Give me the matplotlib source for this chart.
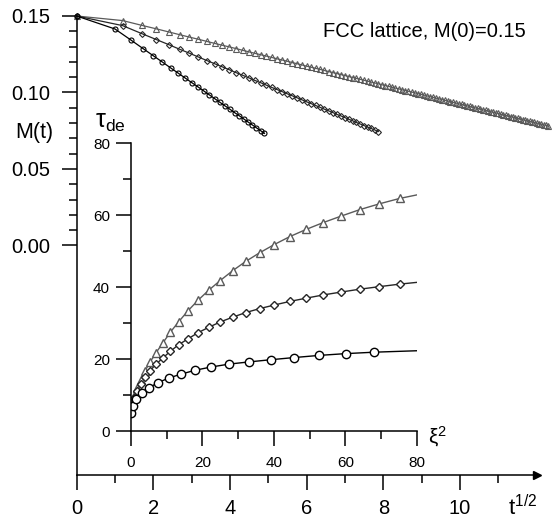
import numpy as np
import matplotlib
matplotlib.use("Agg")
import matplotlib.pyplot as plt

plt.rcParams['font.family'] = ['Liberation Sans', 'DejaVu Sans']
plt.rcParams['mathtext.fontset'] = 'custom'
plt.rcParams['mathtext.rm'] = 'Liberation Sans'
plt.rcParams['mathtext.it'] = 'Liberation Sans:italic'

# main panel: M(t) vs t^(1/2)
t_circ = np.arange(25)
t_dia = 1.44 * np.arange(44)
t_tri = 1.44 * np.arange(106)

M_circ = [0.1500, 0.1415, 0.1343, 0.1287, 0.1240, 0.1199, 0.1161, 0.1127, 0.1095,
          0.1065, 0.1037, 0.1010, 0.0984, 0.0959, 0.0935, 0.0912, 0.0890, 0.0868,
          0.0848, 0.0827, 0.0807, 0.0788, 0.0769, 0.0751, 0.0733]
M_dia = [0.1500, 0.1437, 0.1385, 0.1346, 0.1313, 0.1283, 0.1257, 0.1232, 0.1209,
         0.1188, 0.1168, 0.1149, 0.1130, 0.1113, 0.1096, 0.1079, 0.1064, 0.1048,
         0.1033, 0.1019, 0.1005, 0.0991, 0.0978, 0.0965, 0.0952, 0.0939, 0.0927,
         0.0915, 0.0903, 0.0891, 0.0880, 0.0869, 0.0857, 0.0847, 0.0836, 0.0825,
         0.0815, 0.0804, 0.0794, 0.0784, 0.0774, 0.0765, 0.0755, 0.0745]
M_tri = [0.1500, 0.1470, 0.1439, 0.1416, 0.1396, 0.1378, 0.1362, 0.1348, 0.1334,
         0.1321, 0.1309, 0.1298, 0.1287, 0.1276, 0.1266, 0.1256, 0.1247, 0.1238,
         0.1229, 0.1220, 0.1212, 0.1204, 0.1195, 0.1188, 0.1180, 0.1172, 0.1165,
         0.1158, 0.1151, 0.1144, 0.1137, 0.1130, 0.1124, 0.1117, 0.1111, 0.1104,
         0.1098, 0.1092, 0.1086, 0.1080, 0.1074, 0.1068, 0.1062, 0.1057, 0.1051,
         0.1045, 0.1040, 0.1034, 0.1029, 0.1024, 0.1018, 0.1013, 0.1008, 0.1003,
         0.0998, 0.0993, 0.0988, 0.0983, 0.0978, 0.0973, 0.0968, 0.0963, 0.0959,
         0.0954, 0.0949, 0.0945, 0.0940, 0.0935, 0.0931, 0.0926, 0.0922, 0.0918,
         0.0913, 0.0909, 0.0904, 0.0900, 0.0896, 0.0892, 0.0887, 0.0883, 0.0879,
         0.0875, 0.0871, 0.0867, 0.0863, 0.0858, 0.0854, 0.0850, 0.0846, 0.0843,
         0.0839, 0.0835, 0.0831, 0.0827, 0.0823, 0.0819, 0.0815, 0.0812, 0.0808,
         0.0804, 0.0800, 0.0797, 0.0793, 0.0789, 0.0786, 0.0782]

# inset: tau_de vs xi^2
xi2_circ = [0.06, 0.56, 1.56, 3.06, 5.06, 7.56, 10.56, 14.06, 18.06, 22.56, 27.56,
            33.06, 39.06, 45.56, 52.56, 60.06, 68.06]
tau_circ = [4.9, 6.9, 8.9, 10.6, 12.0, 13.4, 14.7, 15.8, 16.9, 17.8, 18.6, 19.2,
            19.8, 20.4, 21.0, 21.5, 21.9]
xi2_grid = [0.11, 0.44, 1.00, 1.78, 2.78, 4.00, 5.44, 7.11, 9.00, 11.11, 13.44, 16.00,
            18.78, 21.78, 25.00, 28.44, 32.11, 36.00, 40.11, 44.44, 49.00, 53.78,
            58.78, 64.00, 69.44, 75.11]
tau_dia = [5.3, 7.2, 9.2, 11.2, 13.2, 15.0, 16.8, 18.6, 20.3, 22.2, 24.0, 25.6, 27.3,
           28.8, 30.3, 31.6, 32.9, 34.0, 35.0, 36.0, 36.9, 37.8, 38.6, 39.4, 40.1, 40.8]
tau_tri = [5.6, 7.6, 9.8, 12.0, 14.3, 16.7, 19.2, 21.8, 24.5, 27.5, 30.4, 33.4, 36.3,
           39.1, 41.8, 44.5, 47.1, 49.5, 51.8, 54.0, 56.0, 57.9, 59.7, 61.5, 63.1, 64.6]
# where the fitted curves end at xi^2 = 80
fit_end = {'circ': 22.3, 'dia': 41.3, 'tri': 65.6}

c_tri = '#5a5a5a'
c_dia = '#262626'
c_circ = 'black'

fig = plt.figure(figsize=(5.52, 5.21), dpi=100)
ax = fig.add_axes([0.1389, 0.0883, 0.8333, 0.881])

ax.plot(np.sqrt(t_tri), M_tri, '-^', color=c_tri, mfc='none', ms=4.2, mew=0.8, lw=0.9, clip_on=False)
ax.plot(np.sqrt(t_dia), M_dia, '-D', color=c_dia, mfc='none', ms=3.0, mew=0.8, lw=0.9, clip_on=False)
ax.plot(np.sqrt(t_circ), M_circ, '-o', color=c_circ, mfc='none', ms=3.6, mew=0.8, lw=0.9, clip_on=False)

ax.set_xlim(0, 12)
ax.set_ylim(-0.15, 0.15)
ax.spines['top'].set_visible(False)
ax.spines['right'].set_visible(False)
for s in ['left', 'bottom']:
    ax.spines[s].set_linewidth(1.1)
ax.set_xticks(range(0, 11, 2))
ax.set_xticks(range(1, 12, 2), minor=True)
ax.set_yticks([0.0, 0.05, 0.10, 0.15])
ax.set_yticklabels(['0.00', '0.05', '0.10', '0.15'])
ax.set_yticks([v / 100 for v in range(1, 15) if v % 5], minor=True)
ax.tick_params(which='major', direction='out', length=11, width=1.1, labelsize=14.5)
ax.tick_params(which='minor', direction='out', length=5.5, width=1.1)
ax.tick_params(axis='x', which='major', pad=6)
ax.tick_params(axis='y', which='major', pad=8)
ax.plot(1.0, 0, '>', color='black', ms=6, transform=ax.transAxes, clip_on=False)

fig.text(0.063, 0.745, 'M(t)', fontsize=15.5, ha='center', va='center')
fig.text(0.946, 0.026, r'$\mathrm{t}^{\mathrm{1/2}}$', fontsize=16, ha='center', va='center')
fig.text(0.585, 0.9386, 'FCC lattice, M(0)=0.15', fontsize=14.5, ha='left', va='center')

# inset
ins = fig.add_axes([0.2368, 0.1727, 0.5188, 0.5528])
ins.patch.set_alpha(0)
ins.plot(xi2_grid + [80], tau_tri + [fit_end['tri']], '-', color=c_tri, lw=1.0)
ins.plot(xi2_grid + [80], tau_dia + [fit_end['dia']], '-', color=c_dia, lw=1.0)
ins.plot(xi2_circ + [80], tau_circ + [fit_end['circ']], '-', color=c_circ, lw=1.0)
ins.plot(xi2_grid, tau_tri, '^', color=c_tri, mfc='white', ms=6, mew=1.0, ls='none')
ins.plot(xi2_grid, tau_dia, 'D', color=c_dia, mfc='white', ms=4.3, mew=1.0, ls='none')
ins.plot(xi2_circ, tau_circ, 'o', color=c_circ, mfc='white', ms=6, mew=1.0, ls='none')

ins.set_xlim(0, 80)
ins.set_ylim(0, 80)
ins.spines['top'].set_visible(False)
ins.spines['right'].set_visible(False)
for s in ['left', 'bottom']:
    ins.spines[s].set_linewidth(1.1)
ins.set_xticks(range(0, 81, 20))
ins.set_xticks(range(10, 80, 20), minor=True)
ins.set_yticks(range(0, 81, 20))
ins.set_yticks(range(10, 80, 20), minor=True)
ins.tick_params(which='major', direction='out', length=11, width=1.1, labelsize=11)
ins.tick_params(which='minor', direction='out', length=5.5, width=1.1)
ins.tick_params(axis='x', which='major', pad=7)
ins.tick_params(axis='y', which='major', pad=4)
ins.text(83, -1.5, r'$\mathrm{\xi}^{\mathrm{2}}$', fontsize=15, ha='left', va='center')
fig.text(0.172, 0.766, r'$\mathrm{\tau}_{\mathrm{de}}$', fontsize=18, ha='left', va='center')

fig.savefig('out.png', dpi=100)
